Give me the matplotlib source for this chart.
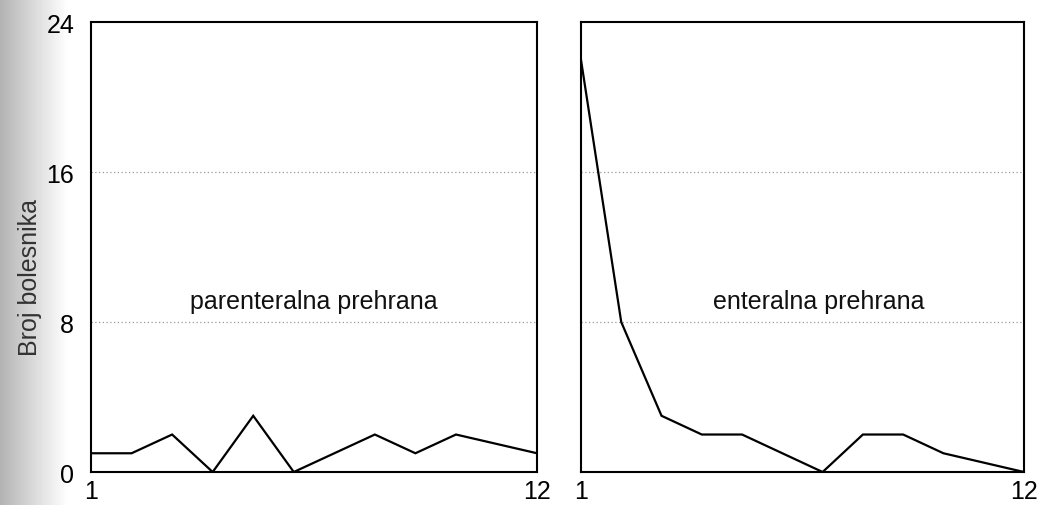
import matplotlib
matplotlib.use("Agg")
import matplotlib.pyplot as plt
import numpy as np

# podaci (broj bolesnika po danu)
dani = list(range(1, 13))
parenteralna = [1, 1, 2, 0, 3, 0, 1, 2, 1, 2, 1.5, 1]
enteralna = [22, 8, 3, 2, 2, 1, 0, 2, 2, 1, 0.5, 0]

y_ticks = [0, 8, 16, 24]
x_ticks = [1, 12]
naslovi = ["parenteralna prehrana", "enteralna prehrana"]
ylabel = "Broj bolesnika"

tick_font = ["Liberation Sans Narrow", "Liberation Sans", "DejaVu Sans"]
text_font = ["Liberation Sans", "DejaVu Sans"]

fig = plt.figure(figsize=(10.38, 5.06), dpi=100)

# sjena skeniranja uz lijevi rub
bg = fig.add_axes([0, 0, 0.065, 1], zorder=-5)
grad = np.linspace(0.6, 1.0, 200)[None, :] ** 0.7
bg.imshow(np.repeat(grad, 10, axis=0), cmap="gray", vmin=0, vmax=1,
          aspect="auto", extent=[0, 1, 0, 1])
bg.axis("off")

ax1 = fig.add_axes([0.0877, 0.0652, 0.4297, 0.889])
ax2 = fig.add_axes([0.5597, 0.0652, 0.4268, 0.889])

for ax, podaci, naslov, tx in [(ax1, parenteralna, naslovi[0], 6.5),
                                (ax2, enteralna, naslovi[1], 6.9)]:
    ax.set_facecolor("white")
    ax.plot(dani, podaci, color="black", lw=1.6, solid_joinstyle="miter")
    for g in [8, 16]:
        ax.axhline(g, color="#9a9a9a", lw=0.9, ls=(0, (1, 2)), zorder=0)
    ax.set_xlim(1, 12)
    ax.set_ylim(0, 24)
    ax.set_xticks(x_ticks)
    ax.set_xticklabels([str(t) for t in x_ticks], family=tick_font, fontsize=18)
    ax.tick_params(axis="both", length=0)
    ax.tick_params(axis="x", pad=5)
    for s in ax.spines.values():
        s.set_linewidth(1.5)
    ax.text(tx, 9.1, naslov, ha="center", va="center", fontsize=18,
            family=text_font, color="#111111")

ax1.set_yticks(y_ticks)
ax1.set_yticklabels([str(t) for t in y_ticks], family=tick_font, fontsize=18)
ax1.tick_params(axis="y", pad=12)
ax2.set_yticks([])

fig.text(0.029, 0.452, ylabel, rotation=90, ha="center", va="center",
         fontsize=18, family=text_font, color="#333333")

fig.savefig("out.png", dpi=100)
